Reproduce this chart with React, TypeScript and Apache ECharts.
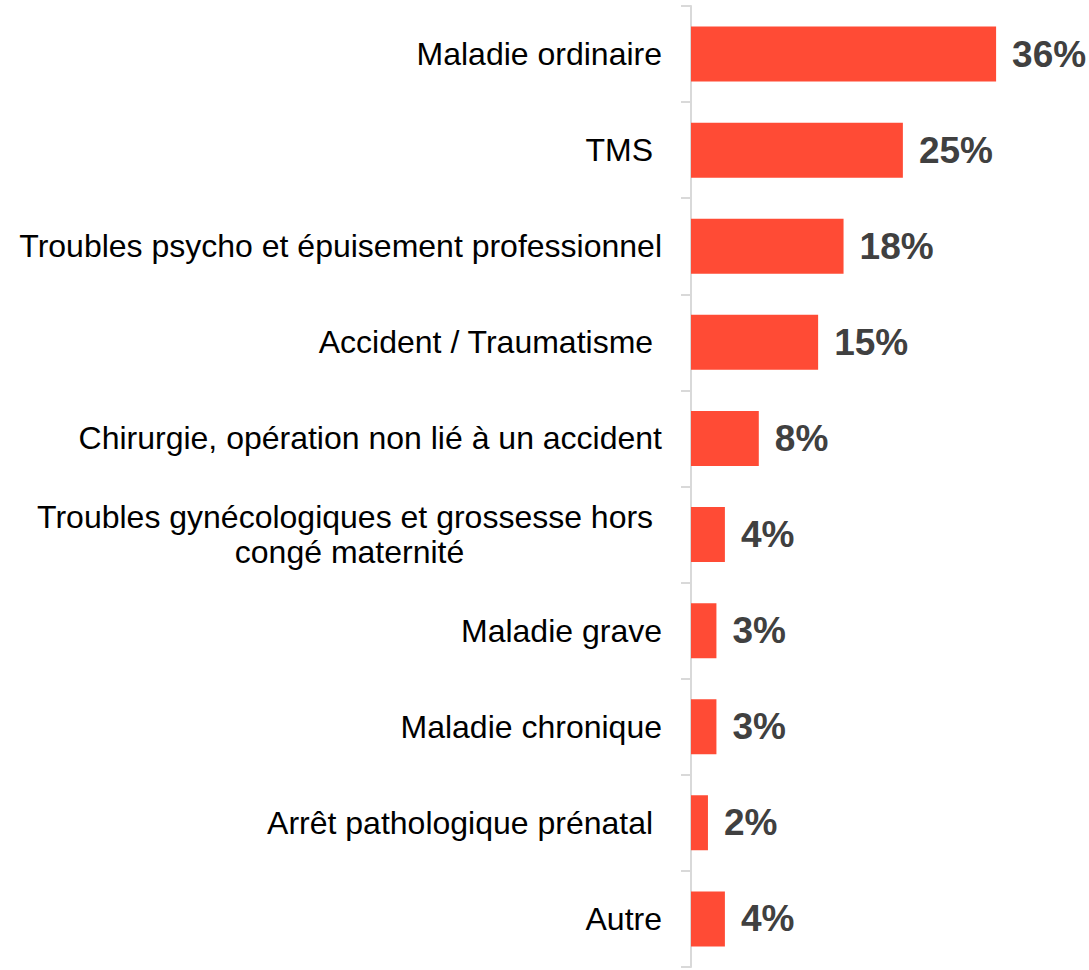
import React, { useEffect, useRef } from "react";
import * as echarts from "echarts";

const categories = [
  "Maladie ordinaire",
  "TMS\u00a0",
  "Troubles psycho et épuisement professionnel",
  "Accident / Traumatisme\u00a0",
  "Chirurgie, opération non lié à un accident",
  "Troubles gynécologiques et grossesse hors\u00a0\ncongé maternité",
  "Maladie grave",
  "Maladie chronique",
  "Arrêt pathologique prénatal\u00a0",
  "Autre",
];
const values = [36, 25, 18, 15, 8, 4, 3, 3, 2, 4];

const FONT = "'Liberation Sans', Arial, Helvetica, sans-serif";

export default function App() {
  const ref = useRef<HTMLDivElement>(null);
  useEffect(() => {
    if (!ref.current) return;
    const chart = echarts.init(ref.current, undefined, { renderer: "svg" });
    chart.setOption({
      animation: false,
      grid: { left: 691, top: 6, bottom: 3, right: 59, containLabel: false },
      xAxis: { type: "value", min: 0, max: 40, show: false },
      yAxis: {
        type: "category",
        data: categories,
        inverse: true,
        axisLine: { show: true, lineStyle: { color: "#d9d9d9", width: 2 } },
        axisTick: {
          show: true,
          length: 10,
          lineStyle: { color: "#d9d9d9", width: 2 },
        },
        axisLabel: {
          interval: 0,
          margin: 29,
          align: "right",
          color: "#000000",
          fontSize: 32,
          fontFamily: FONT,
          lineHeight: 35,
          formatter: (v: string) => {
            if (v.indexOf("\n") >= 0) {
              return v
                .split("\n")
                .map((l) => "{c|" + l + "}")
                .join("\n");
            }
            return v;
          },
          rich: {
            c: {
              align: "center",
              fontSize: 32,
              fontFamily: FONT,
              color: "#000000",
              lineHeight: 35,
            },
          },
        },
      },
      series: [
        {
          type: "bar",
          data: values,
          barWidth: 55,
          itemStyle: { color: "#FF4B35" },
          label: {
            show: true,
            position: "right",
            distance: 16,
            formatter: "{c}%",
            color: "#404040",
            fontSize: 37,
            fontWeight: "bold",
            fontFamily: FONT,
          },
        },
      ],
    });
    return () => chart.dispose();
  }, []);
  return (
    <div
      ref={ref}
      style={{ position: "absolute", left: 0, top: 0, width: 1089, height: 970 }}
    />
  );
}
